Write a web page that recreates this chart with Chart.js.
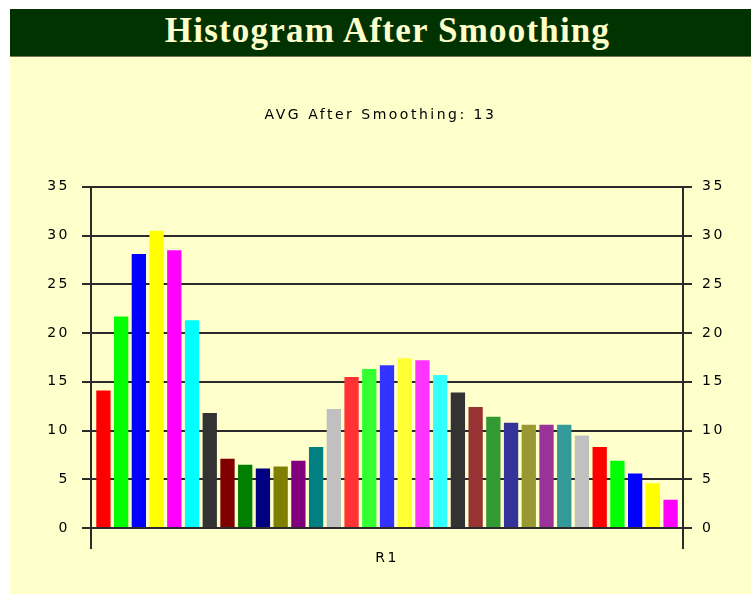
<!DOCTYPE html>
<html>
<head>
<meta charset="utf-8">
<script src="https://cdn.jsdelivr.net/npm/chart.js@4/dist/chart.umd.min.js"></script>
<style>
  html, body { margin: 0; padding: 0; background: #ffffff; overflow: hidden; }
  body { width: 751px; height: 598px; position: relative; }
  #titlebar { position: absolute; left: 10px; top: 9px; width: 741px; height: 48px; background: #003300; border-bottom: 1px solid #777755; box-sizing: border-box; }
  #title { position: absolute; left: 24px; top: 13px; width: 727px; text-align: center; font-family: "Liberation Serif", "Times New Roman", serif; font-weight: bold; font-size: 35px; line-height: 35px; letter-spacing: 1.2px; color: #FFFFCC; white-space: nowrap; }
  #panel { position: absolute; left: 10px; top: 57px; width: 741px; height: 537px; background: #FFFFCC; }
  #chart { display: block; }
</style>
</head>
<body>
<div id="titlebar"></div>
<div id="title">Histogram After Smoothing</div>
<div id="panel"><canvas id="chart" width="741" height="537"></canvas></div>
<script>
// ---- data ----
const categories = ['R1'];
const subtitle = 'AVG After Smoothing: 13';
const values = [14.1, 21.7, 28.1, 30.5, 28.5, 21.3, 11.8, 7.1, 6.5, 6.1, 6.3, 6.9, 8.3, 12.2,
                15.5, 16.3, 16.7, 17.4, 17.2, 15.7, 13.9, 12.4, 11.4, 10.8, 10.6, 10.6, 10.6, 9.5,
                8.3, 6.9, 5.6, 4.6, 2.9];
const barColors = ['#FF0000', '#00FF00', '#0000FF', '#FFFF00', '#FF00FF', '#00FFFF', '#333333',
                   '#800000', '#008000', '#000080', '#808000', '#800080', '#008080', '#C0C0C0',
                   '#FF3333', '#33FF33', '#3333FF', '#FFFF33', '#FF33FF', '#33FFFF', '#333333',
                   '#993333', '#339933', '#333399', '#999933', '#993399', '#339999', '#C0C0C0',
                   '#FF0000', '#00FF00', '#0000FF', '#FFFF00', '#FF00FF'];
const yTicks = { min: 0, max: 35, step: 5 };

const lineColor = '#2b2b2b';
const tickFont = { family: '"DejaVu Sans", sans-serif', size: 14 };

const datasets = values.map((v, i) => ({
  label: 'Series ' + (i + 1),
  data: [v],
  backgroundColor: barColors[i],
  borderWidth: 0,
  categoryPercentage: 0.988,
  barPercentage: 0.807
}));

const spacing = {
  id: 'spacing',
  beforeDraw(chart) { chart.ctx.letterSpacing = '2.5px'; }
};

new Chart(document.getElementById('chart'), {
  type: 'bar',
  data: { labels: categories, datasets },
  options: {
    responsive: false,
    animation: false,
    devicePixelRatio: 1,
    layout: { padding: 0 },
    plugins: {
      legend: { display: false },
      tooltip: { enabled: false },
      title: {
        display: true,
        text: subtitle,
        color: '#000000',
        font: { family: '"DejaVu Sans", sans-serif', size: 14, weight: 'normal', lineHeight: 1.2 },
        padding: { top: 50, bottom: 63 }
      }
    },
    scales: {
      x: {
        type: 'category',
        grid: { display: true, offset: true, drawOnChartArea: false, drawTicks: true, tickLength: 21, color: lineColor, lineWidth: 2 },
        border: { display: true, color: lineColor, width: 2 },
        ticks: { color: '#000000', font: tickFont, padding: 1 },
        afterFit(s) { s.height = 66; }
      },
      y: {
        position: 'left',
        min: yTicks.min, max: yTicks.max,
        ticks: { stepSize: yTicks.step, color: '#000000', font: tickFont, padding: 12 },
        grid: { color: lineColor, lineWidth: 2, drawTicks: true, tickLength: 9 },
        border: { display: true, color: lineColor, width: 2 },
        afterFit(s) { s.width = 81; }
      },
      y2: {
        position: 'right',
        min: yTicks.min, max: yTicks.max,
        ticks: { stepSize: yTicks.step, color: '#000000', font: tickFont, padding: 10 },
        grid: { drawOnChartArea: false, color: lineColor, lineWidth: 2, drawTicks: true, tickLength: 9 },
        border: { display: true, color: lineColor, width: 2 },
        afterFit(s) { s.width = 68; }
      }
    }
  },
  plugins: [spacing]
});
</script>
</body>
</html>
